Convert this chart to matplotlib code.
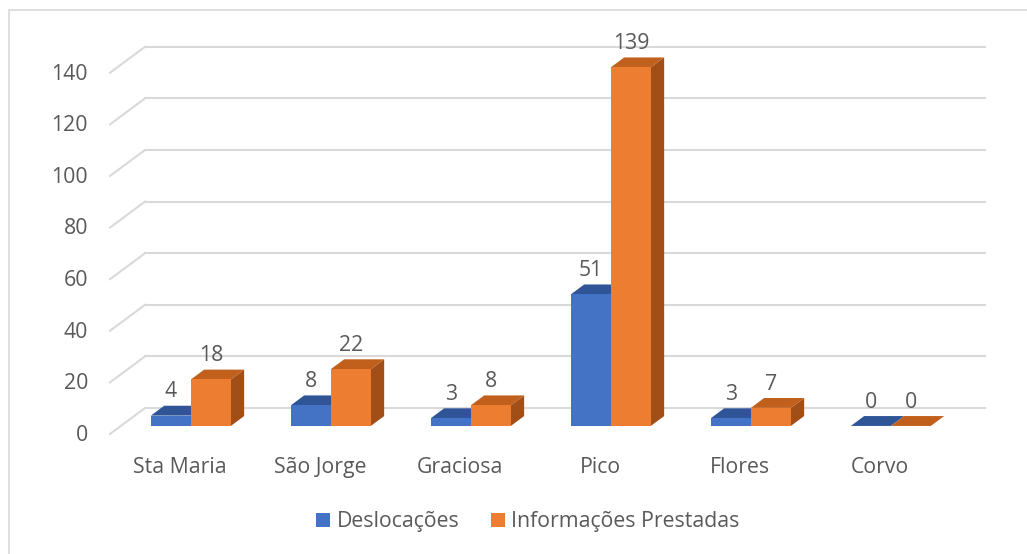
import matplotlib.pyplot as plt
from matplotlib.patches import Polygon, Rectangle, Patch

categories = ["Sta Maria", "São Jorge", "Graciosa", "Pico", "Flores", "Corvo"]
deslocacoes = [4, 8, 3, 51, 3, 0]
informacoes = [18, 22, 8, 139, 7, 0]
yticks = [0, 20, 40, 60, 80, 100, 120, 140]
series_names = ["Deslocações", "Informações Prestadas"]

# colours: front, top, side
BLUE = ("#4472C4", "#2F5597", "#2A4C88")
ORANGE = ("#ED7D31", "#C0601C", "#A14E17")
GRID = "#D9D9D9"
TXT = "#595959"
FONT = "Open Sans"

# fake 3d: depth d in [0,1] shifts points right and up
DX, DY = 0.25, 10.08
D_FRONT, D_BACK = 0.31, 0.69
BAR_W = 0.2857


def proj(x, y, d):
    return (x + d * DX, y + d * DY)


fig = plt.figure(figsize=(10.27, 5.54), dpi=100)
ax = fig.add_axes([0, 0, 1, 1])
# 140 px per category, 2.58 px per unit, front floor at pixel (110, 434)
ax.set_xlim(-110 / 140, (1027 - 110) / 140)
ax.set_ylim(-(554 - 434) / 2.58, 434 / 2.58)
ax.axis("off")

n = len(categories)

# back wall grid + left wall slants
for v in yticks:
    bx0, by = proj(0, v, 1)
    bx1, _ = proj(n, v, 1)
    ax.plot([bx0, bx1], [by, by], color=GRID, lw=1.5, zorder=1)
    fx, fy = proj(0, v, 0)
    ax.plot([fx, bx0], [fy, by], color=GRID, lw=1.5, zorder=1)
    ax.text(-0.157, v - 0.5, str(v), ha="right", va="center", fontsize=15.3,
            color=TXT, family=FONT)


def bar3d(x0, h, cols):
    x1 = x0 + BAR_W
    front = [proj(x0, 0, D_FRONT), proj(x1, 0, D_FRONT),
             proj(x1, h, D_FRONT), proj(x0, h, D_FRONT)]
    top = [proj(x0, h, D_FRONT), proj(x1, h, D_FRONT),
           proj(x1, h, D_BACK), proj(x0, h, D_BACK)]
    side = [proj(x1, 0, D_FRONT), proj(x1, 0, D_BACK),
            proj(x1, h, D_BACK), proj(x1, h, D_FRONT)]
    ax.add_patch(Polygon(side, closed=True, fc=cols[2], ec="none", zorder=3))
    ax.add_patch(Polygon(top, closed=True, fc=cols[1], ec="none", zorder=3))
    if h > 0:
        ax.add_patch(Polygon(front, closed=True, fc=cols[0], ec="none", zorder=3))
    lx, ly = proj(x0 + BAR_W / 2, h, D_FRONT)
    ax.text(lx, h + D_BACK * DY + 1.3, str(h), ha="center", va="bottom",
            fontsize=15.3, color=TXT, family=FONT, zorder=4)


for i, cat in enumerate(categories):
    c = i + 0.5
    bar3d(c - BAR_W, deslocacoes[i], BLUE)
    bar3d(c, informacoes[i], ORANGE)
    ax.text(c, -13, cat, ha="center", va="center", fontsize=15.3,
            color=TXT, family=FONT)

# chart border
fig.patches.append(Rectangle((9 / 1027, -0.1), 1.2, 1 - 10 / 554 + 0.1,
                             transform=fig.transFigure, fill=False,
                             ec=GRID, lw=1.2))

handles = [Patch(fc=BLUE[0]), Patch(fc=ORANGE[0])]
fig.legend(handles, series_names, loc="center", bbox_to_anchor=(528 / 1027, 1 - 522 / 554),
           ncol=2, frameon=False, handlelength=0.65, handleheight=0.65,
           handletextpad=0.3, columnspacing=1.5,
           prop={"family": FONT, "size": 15.3}, labelcolor=TXT)

fig.savefig("out.png", dpi=100)
